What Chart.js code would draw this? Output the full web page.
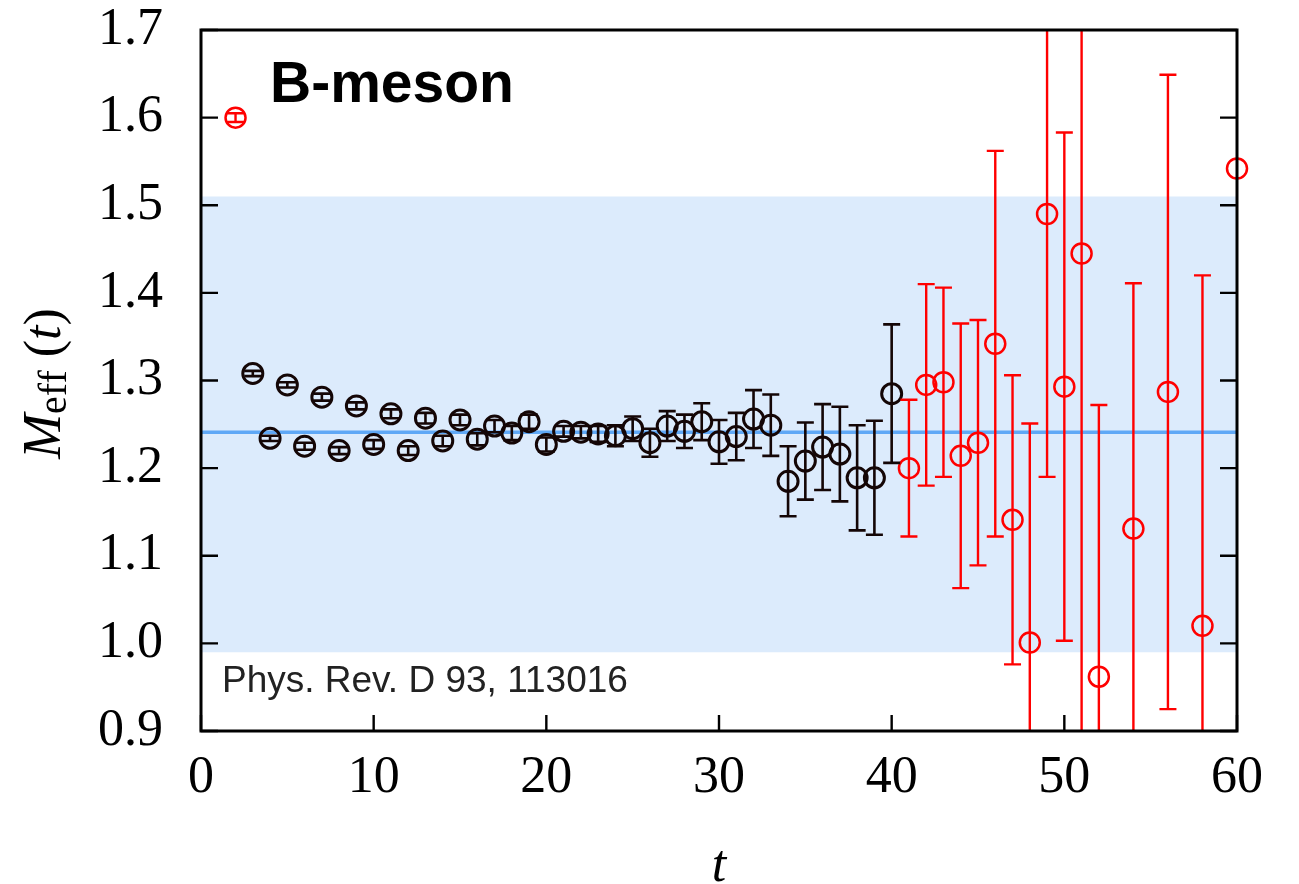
<!DOCTYPE html>
<html>
<head>
<meta charset="utf-8">
<script src="https://cdn.jsdelivr.net/npm/chart.js@4/dist/chart.umd.min.js"></script>
<style>
  html, body { margin: 0; padding: 0; background: #fff; }
</style>
</head>
<body>
<canvas id="meff" width="1299" height="884"></canvas>
<script>
// time slices used in the fit (black) and the rest (red)
const tFit = [3, 4, 5, 6, 7, 8, 9, 10, 11, 12, 13, 14, 15, 16, 17, 18, 19, 20,
  21, 22, 23, 24, 25, 26, 27, 28, 29, 30, 31, 32, 33, 34, 35, 36, 37, 38, 39, 40]
const meffFit = [1.308, 1.234, 1.295, 1.225, 1.281, 1.220, 1.271, 1.227, 1.262, 1.220,
  1.257, 1.231, 1.255, 1.233, 1.248, 1.240, 1.253, 1.227, 1.242, 1.241, 1.239, 1.237,
  1.245, 1.229, 1.248, 1.242, 1.253, 1.230, 1.236, 1.256, 1.249, 1.185, 1.208, 1.224,
  1.216, 1.189, 1.189, 1.285]
const errFit = [0.003, 0.003, 0.003, 0.004, 0.004, 0.004, 0.004, 0.005, 0.005, 0.005,
  0.006, 0.006, 0.006, 0.007, 0.007, 0.008, 0.008, 0.008, 0.006, 0.007, 0.009, 0.012,
  0.014, 0.016, 0.017, 0.019, 0.021, 0.025, 0.027, 0.033, 0.035, 0.040, 0.044, 0.049,
  0.054, 0.060, 0.065, 0.079]

const tOut = [2, 41, 42, 43, 44, 45, 46, 47, 48, 49, 50, 51, 52, 54, 56, 58, 60]
const meffOut = [1.600, 1.200, 1.295, 1.298, 1.214, 1.229, 1.342, 1.141, 1.001, 1.490,
  1.293, 1.445, 0.962, 1.131, 1.287, 1.020, 1.542]
const errOut = [0.005, 0.078, 0.115, 0.108, 0.151, 0.140, 0.220, 0.165, 0.250, 0.300,
  0.290, 0.600, 0.310, 0.280, 0.362, 0.400, null]

// fitted mass and its band
const fitMass = 1.241
const bandHi = 1.51
const bandLo = 0.99
const tRange = [0, 60]

const xTicks = [0, 10, 20, 30, 40, 50, 60]
const yTicks = [0.9, 1.0, 1.1, 1.2, 1.3, 1.4, 1.5, 1.6, 1.7]

const serif = '"Liberation Serif", "Times New Roman", serif'
const sans = '"Liberation Sans", Arial, Helvetica, sans-serif'

const toPoints = (xs, ys) => xs.map((x, i) => ({ x, y: ys[i] }))

const errorBars = {
  id: 'errorBars',
  afterDatasetsDraw(chart) {
    const { ctx, chartArea: a, scales: { x, y } } = chart
    ctx.save()
    ctx.beginPath()
    ctx.rect(a.left, a.top, a.right - a.left, a.bottom - a.top)
    ctx.clip()
    chart.data.datasets.forEach(ds => {
      if (!ds.errors) return
      ctx.strokeStyle = ds.borderColor
      ctx.lineWidth = ds.errWidth
      ds.data.forEach((p, i) => {
        const e = ds.errors[i]
        if (e == null) return
        const px = x.getPixelForValue(p.x)
        const top = y.getPixelForValue(p.y + e)
        const bot = y.getPixelForValue(p.y - e)
        ctx.beginPath()
        ctx.moveTo(px, top); ctx.lineTo(px, bot)
        ctx.moveTo(px - 8.5, top); ctx.lineTo(px + 8.5, top)
        ctx.moveTo(px - 8.5, bot); ctx.lineTo(px + 8.5, bot)
        ctx.stroke()
      })
    })
    ctx.restore()
  }
}

// frame with inward ticks, axis title with subscript, and the two labels
const decorations = {
  id: 'decorations',
  afterDraw(chart) {
    const { ctx, chartArea: a, scales: { x, y } } = chart
    ctx.save()
    ctx.strokeStyle = '#000'
    ctx.lineWidth = 3
    ctx.strokeRect(a.left, a.top, a.right - a.left, a.bottom - a.top)
    ctx.lineWidth = 2.4
    ctx.beginPath()
    yTicks.forEach(v => {
      const py = y.getPixelForValue(v)
      ctx.moveTo(a.left, py); ctx.lineTo(a.left + 17, py)
      ctx.moveTo(a.right, py); ctx.lineTo(a.right - 17, py)
    })
    xTicks.forEach(v => {
      const px = x.getPixelForValue(v)
      ctx.moveTo(px, a.bottom); ctx.lineTo(px, a.bottom - 16)
    })
    ctx.stroke()

    // y title: M_eff (t)
    ctx.fillStyle = '#000'
    ctx.textBaseline = 'alphabetic'
    const parts = [
      { s: 'M', f: 'italic 54px ' + serif, dy: 0 },
      { s: 'eff', f: '40px ' + serif, dy: 6 },
      { s: ' (', f: '52px ' + serif, dy: 0 },
      { s: 't', f: 'italic 52px ' + serif, dy: 0 },
      { s: ')', f: '52px ' + serif, dy: 0 }
    ]
    let total = 0
    parts.forEach(p => { ctx.font = p.f; p.w = ctx.measureText(p.s).width; total += p.w })
    ctx.translate(60, (a.top + a.bottom) / 2 + 3)
    ctx.rotate(-Math.PI / 2)
    let cx = -total / 2
    parts.forEach(p => {
      ctx.font = p.f
      ctx.fillText(p.s, cx, p.dy)
      cx += p.w
    })
    ctx.setTransform(1, 0, 0, 1, 0, 0)

    ctx.textAlign = 'left'
    ctx.font = 'bold 57px ' + sans
    ctx.fillText('B-meson', a.left + 69, a.top + 72)
    ctx.fillStyle = '#222'
    ctx.font = '37px ' + sans
    ctx.fillText('Phys. Rev. D 93, 113016', a.left + 21, a.top + 662)
    ctx.restore()
  }
}

new Chart(document.getElementById('meff'), {
  type: 'scatter',
  data: {
    datasets: [
      {
        data: toPoints(tFit, meffFit),
        errors: errFit,
        errWidth: 2.6,
        borderColor: '#140606',
        pointBorderColor: '#140606',
        pointBackgroundColor: 'rgba(0,0,0,0)',
        pointBorderWidth: 3,
        pointRadius: 10,
        pointHoverRadius: 10,
        showLine: false,
        clip: false,
        order: 0
      },
      {
        data: toPoints(tOut, meffOut),
        errors: errOut,
        errWidth: 2.4,
        borderColor: '#ff0000',
        pointBorderColor: '#ff0000',
        pointBackgroundColor: 'rgba(0,0,0,0)',
        pointBorderWidth: 2.5,
        pointRadius: 10,
        pointHoverRadius: 10,
        showLine: false,
        clip: false,
        order: 0
      },
      {
        type: 'line',
        data: toPoints(tRange, [fitMass, fitMass]),
        borderColor: '#5fa8f6',
        borderWidth: 3.5,
        pointRadius: 0,
        fill: false,
        order: 1
      },
      {
        type: 'line',
        data: toPoints(tRange, [bandHi, bandHi]),
        borderWidth: 0,
        borderColor: 'rgba(0,0,0,0)',
        backgroundColor: '#dcebfc',
        pointRadius: 0,
        fill: { value: bandLo },
        order: 2
      }
    ]
  },
  options: {
    responsive: false,
    animation: false,
    events: [],
    layout: { padding: { top: 30, right: 62, left: 0, bottom: 0 }, autoPadding: false },
    plugins: {
      legend: { display: false },
      tooltip: { enabled: false }
    },
    scales: {
      x: {
        type: 'linear',
        min: 0,
        max: 60,
        afterFit: s => { s.height = 153; s.paddingLeft = 0; s.paddingRight = 0 },
        grid: { display: false },
        border: { display: false },
        ticks: {
          stepSize: 10,
          padding: 8,
          color: '#000',
          font: { family: serif, size: 52 }
        },
        title: {
          display: true,
          text: 't',
          color: '#000',
          padding: 0,
          font: { family: serif, size: 52, style: 'italic', lineHeight: 0.65 }
        }
      },
      y: {
        min: 0.9,
        max: 1.7,
        afterFit: s => { s.width = 201; s.paddingTop = 0; s.paddingBottom = 0 },
        grid: { display: false },
        border: { display: false },
        ticks: {
          stepSize: 0.1,
          padding: 30,
          color: '#000',
          font: { family: serif, size: 52 },
          callback: v => v.toFixed(1)
        }
      }
    }
  },
  plugins: [errorBars, decorations]
})
</script>
</body>
</html>
